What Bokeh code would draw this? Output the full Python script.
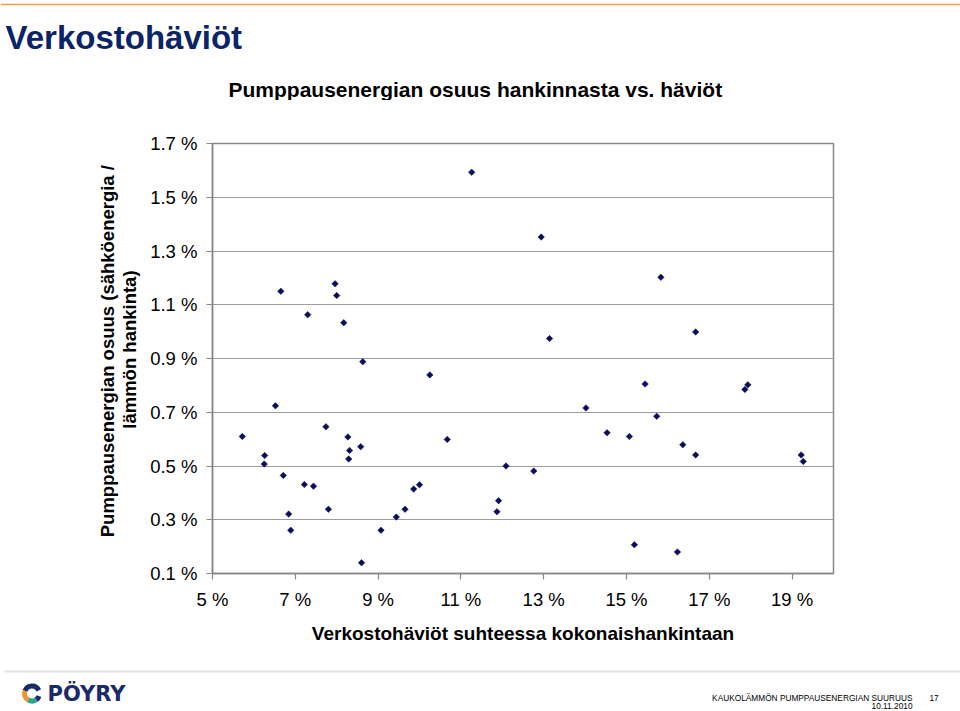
import numpy as np
from bokeh.plotting import figure
from bokeh.layouts import column, row
from bokeh.models import FixedTicker, PrintfTickFormatter, Range1d
from bokeh.core.properties import value
from bokeh.embed import file_html
from bokeh.resources import INLINE

# ---------------- data ----------------
loss_pct = [5.72, 6.65, 6.52, 6.26, 6.25, 6.71, 6.84, 6.89, 7.30, 7.22,
            7.44, 7.74, 7.80, 7.96, 8.00, 8.17, 8.27, 8.31, 8.29, 8.58,
            8.63, 8.60, 9.07, 9.44, 9.65, 9.86, 10.00, 10.25, 10.67, 11.26,
            11.91, 11.87, 12.09, 12.94, 12.76, 13.14, 14.02, 14.53, 15.07, 15.19,
            15.45, 15.73, 15.83, 16.36, 16.23, 16.67, 16.67, 17.86, 17.93, 19.22,
            19.27]
pump_pct = [0.610, 1.150, 0.724, 0.539, 0.507, 0.465, 0.321, 0.261, 1.063, 0.431,
            0.425, 0.646, 0.339, 1.178, 1.134, 1.033, 0.608, 0.558, 0.526, 0.572,
            0.888, 0.140, 0.261, 0.310, 0.339, 0.414, 0.430, 0.839, 0.599, 1.593,
            0.371, 0.330, 0.500, 1.352, 0.481, 0.974, 0.716, 0.624, 0.610, 0.207,
            0.805, 0.685, 1.202, 0.579, 0.180, 0.999, 0.541, 0.785, 0.802, 0.541,
            0.517]
x_ticks = [5, 7, 9, 11, 13, 15, 17, 19]
y_ticks = [0.1, 0.3, 0.5, 0.7, 0.9, 1.1, 1.3, 1.5, 1.7]

page_title = "Verkostohäviöt"
chart_title = "Pumppausenergian osuus hankinnasta vs. häviöt"
x_label = "Verkostohäviöt suhteessa kokonaishankintaan"
y_label_lines = ["Pumppausenergian osuus (sähköenergia /", "lämmön hankinta)"]
footer_title = "KAUKOLÄMMÖN PUMPPAUSENERGIAN SUURUUS"
footer_date = "10.11.2010"
page_no = "17"
logo_text = "PÖYRY"

# ---------------- layout ----------------
W, H = 960, 711
HEAD_H = 100          # header strip height
FOOT_H = 56           # footer strip height
MID_H = H - HEAD_H - FOOT_H
LEFT_W = 145          # strip that holds the rotated y label
FL, FR, FT, FB = 212, 833, 143, 573   # plot frame in page pixels

FONT = "Liberation Sans"
AXIS_GRAY = "#878787"
NAVY = "#1b2a6b"


def deco(w, h):
    f = figure(width=w, height=h, x_range=Range1d(0, w), y_range=Range1d(0, h),
               x_axis_type=None, y_axis_type=None, toolbar_location=None,
               output_backend="svg", min_border=0)
    f.outline_line_color = None
    f.background_fill_color = "white"
    f.border_fill_color = "white"
    return f


def txt(f, x, y, s, size, style="normal", color="black", align="left",
        baseline="alphabetic", angle=0.0, font=FONT):
    f.text(x=[x], y=[y], text=[s], text_font=value(font),
           text_font_size=value(size), text_font_style=style,
           text_color=color, text_align=align, text_baseline=baseline,
           angle=angle)


# header (page y 0..100); glyph y = HEAD_H - page_y
head = deco(W, HEAD_H)
head.quad(left=[0], right=[W], top=[HEAD_H - 3.3], bottom=[HEAD_H - 4.8],
          fill_color="#eaa54a", line_color=None)
txt(head, 5, HEAD_H - 36.7, page_title, "33px", "bold", "#0b2468")
txt(head, 228, HEAD_H - 89, chart_title, "21px", "bold")

# left strip with the y-axis title (page y 100..655)
left = deco(LEFT_W, MID_H)
txt(left, 106.5, HEAD_H + MID_H - 368, y_label_lines[0], "18.5px", "bold",
    align="center", angle=np.pi / 2)
txt(left, 128.5, HEAD_H + MID_H - 366, y_label_lines[1], "18.5px", "bold",
    align="center", angle=np.pi / 2)

# main chart
p = figure(width=W - LEFT_W, height=MID_H,
           x_range=Range1d(5, 20), y_range=Range1d(0.1, 1.7),
           output_backend="svg", toolbar_location=None,
           min_border_left=FL - LEFT_W, min_border_right=W - FR,
           min_border_top=FT - HEAD_H, min_border_bottom=HEAD_H + MID_H - FB)
p.background_fill_color = "white"
p.border_fill_color = "white"
p.outline_line_color = AXIS_GRAY
p.outline_line_width = 1.5

p.scatter(loss_pct, pump_pct, marker="square", size=4.6, angle=np.pi / 4,
          fill_color="#0c0c5c", line_color="#0c0c5c", line_width=0.5)

p.xaxis.ticker = FixedTicker(ticks=x_ticks)
p.yaxis.ticker = FixedTicker(ticks=y_ticks)
p.xaxis.formatter = PrintfTickFormatter(format="%d %%")
p.yaxis.formatter = PrintfTickFormatter(format="%.1f %%")
for ax in (p.xaxis, p.yaxis):
    ax.axis_line_color = AXIS_GRAY
    ax.axis_line_width = 1.5
    ax.major_tick_line_color = AXIS_GRAY
    ax.major_tick_line_width = 1.2
    ax.major_tick_out = 6
    ax.major_tick_in = 0
    ax.minor_tick_out = 0
    ax.minor_tick_in = 0
    ax.major_label_text_font = FONT
    ax.major_label_text_font_size = "18.5px"
    ax.major_label_text_color = "black"
p.xaxis.major_label_standoff = 9
p.yaxis.major_label_standoff = 9

p.xaxis.axis_label = x_label
p.xaxis.axis_label_text_font = FONT
p.xaxis.axis_label_text_font_size = "19px"
p.xaxis.axis_label_text_font_style = "bold"
p.xaxis.axis_label_text_color = "black"
p.xaxis.axis_label_standoff = 10

p.xgrid.visible = False
p.ygrid.grid_line_color = "#9c9c9c"
p.ygrid.grid_line_width = 1.2

# footer (page y 655..711); glyph y = FOOT_H - (page_y - top0)
foot = deco(W, FOOT_H)
top0 = HEAD_H + MID_H


def fy(py):
    return FOOT_H - (py - top0)


foot.quad(left=[4], right=[W], top=[fy(670)], bottom=[fy(672)],
          fill_color="#e2e2e2", line_color=None)
txt(foot, 912, fy(697), footer_title, "8.3px", align="right")
txt(foot, 912, fy(705), footer_date, "8.3px", align="right")
txt(foot, 929, fy(697), page_no, "8.3px")
txt(foot, 47, fy(693), logo_text, "21px", "bold", NAVY, font="DejaVu Sans",
    baseline="middle")

ring_pieces = [(25, 160, NAVY), (160, 240, "#f0932b"),
               (240, 305, "#2aa58f"), (305, 340, NAVY)]
for a0, a1, col in ring_pieces:
    foot.annular_wedge(x=[31.5], y=[fy(693)], inner_radius=5.0, outer_radius=10.0,
                       start_angle=np.radians(a0), end_angle=np.radians(a1),
                       fill_color=col, line_color=None)

layout = column(head, row(left, p), foot)

html = file_html(layout, INLINE, title=page_title)
html = html.replace("<head>", "<head>\n<style>html, body {margin: 0; padding: 0; overflow: hidden;}</style>", 1)
with open("out.html", "w", encoding="utf-8") as f:
    f.write(html)
